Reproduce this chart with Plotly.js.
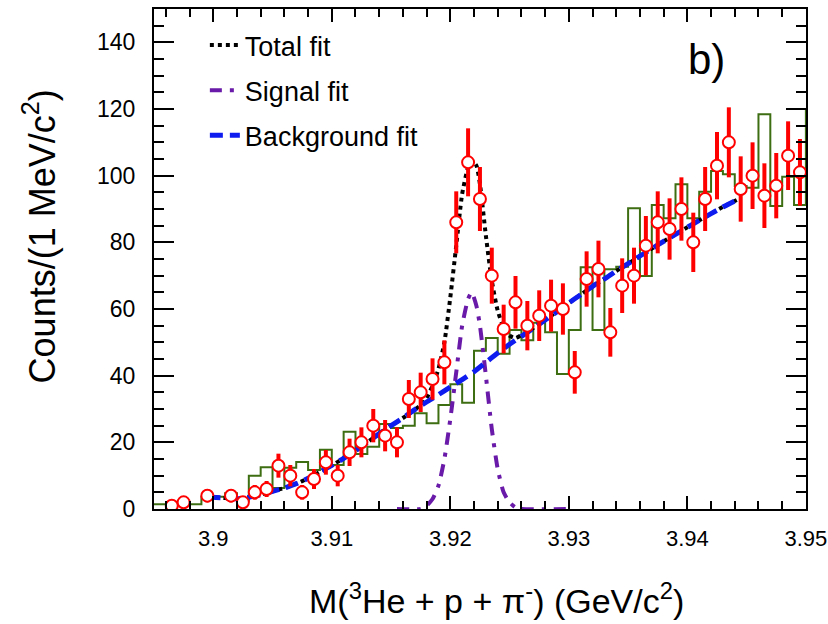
<!DOCTYPE html>
<html>
<head>
<meta charset="utf-8">
<script src="https://cdn.plot.ly/plotly-3.0.1.min.js"></script>
<style>
html, body { margin: 0; padding: 0; background: #ffffff; }
#chart { width: 828px; height: 624px; }
</style>
</head>
<body>
<div id="chart"></div>
<script>
// ---- Data points (counts per 1 MeV bin) ----
var dataX = [3.8965, 3.8975, 3.8995,
  3.9015, 3.9025, 3.9035, 3.9045, 3.9055, 3.9065, 3.9075, 3.9085, 3.9095, 3.9105,
  3.9115, 3.9125, 3.9135, 3.9145, 3.9155, 3.9165, 3.9175, 3.9185, 3.9195,
  3.9205, 3.9215, 3.9225, 3.9235, 3.9245, 3.9255, 3.9265, 3.9275, 3.9285, 3.9295,
  3.9305, 3.9315, 3.9325, 3.9335, 3.9345, 3.9355, 3.9365, 3.9375, 3.9385, 3.9395,
  3.9405, 3.9415, 3.9425, 3.9435, 3.9445, 3.9455, 3.9465, 3.9475, 3.9485, 3.9495];
var dataY = [1, 2, 4,
  4, 2, 5, 6, 13, 10, 5, 9, 14, 10,
  17, 20, 25, 22, 20, 33, 35, 39, 44,
  86, 104, 93, 70, 54, 62, 55, 58, 61, 60,
  41, 69, 72, 53, 67, 70, 79, 86, 84, 90,
  80, 93, 103, 110, 96, 100, 94, 97, 106, 101];
var dataErr = [1.0, 1.4, 2.0,
  2.0, 1.4, 2.2, 2.4, 3.6, 3.2, 2.2, 3.0, 3.7, 3.2,
  4.1, 4.5, 5.0, 4.7, 4.5, 5.7, 5.9, 6.2, 6.6,
  9.3, 10.2, 9.6, 8.4, 7.3, 7.9, 7.4, 7.6, 7.8, 7.7,
  6.4, 8.3, 8.5, 7.3, 8.2, 8.4, 8.9, 9.3, 9.2, 9.5,
  8.9, 9.6, 10.1, 10.5, 9.8, 10.0, 9.7, 9.8, 10.3, 10.0];

// ---- Green histogram (bin centres and contents) ----
var histX = [3.8945, 3.8955, 3.8965, 3.8975, 3.8985, 3.8995, 3.9005, 3.9015, 3.9025, 3.9035,
  3.9045, 3.9055, 3.9065, 3.9075, 3.9085, 3.9095, 3.9105, 3.9115, 3.9125, 3.9135,
  3.9145, 3.9155, 3.9165, 3.9175, 3.9185, 3.9195, 3.9205, 3.9215, 3.9225, 3.9235,
  3.9245, 3.9255, 3.9265, 3.9275, 3.9285, 3.9295, 3.9305, 3.9315, 3.9325, 3.9335,
  3.9345, 3.9355, 3.9365, 3.9375, 3.9385, 3.9395, 3.9405, 3.9415, 3.9425, 3.9435,
  3.9445, 3.9455, 3.9465, 3.9475, 3.9485, 3.9495, 3.9505];
var histY = [1.4, 1.4, 1.4, 1.4, 1.4, 3.7, 3.7, 4.7, 2.5, 10.0,
  12.5, 6.3, 12.4, 14.1, 11.7, 17.8, 13.2, 23.2, 16.5, 18.7,
  25.5, 24.3, 25.0, 28.7, 25.7, 31.2, 37.4, 31.9, 47.5, 51.3,
  46.6, 53.7, 50.6, 55.9, 53.0, 40.5, 53.7, 72.5, 53.7, 71.9,
  72.7, 90.2, 69.9, 91.2, 87.2, 97.4, 87.2, 95.2, 101.4, 100.4,
  96.9, 96.4, 118.4, 90.9, 99.7, 91.2, 120.0];
var binWidth = 0.001;

// ---- Fits ----
var totalX = [3.8995, 3.901, 3.902, 3.903, 3.904, 3.905, 3.906, 3.907, 3.908, 3.909,
  3.910, 3.911, 3.912, 3.913, 3.914, 3.915, 3.916, 3.917, 3.9175, 3.918,
  3.9185, 3.919, 3.9195, 3.920, 3.9205, 3.921, 3.9215, 3.9218, 3.9222, 3.9225,
  3.923, 3.9235, 3.924, 3.9245, 3.925, 3.9255, 3.926, 3.927, 3.928, 3.929,
  3.930, 3.931, 3.932, 3.933, 3.934, 3.935, 3.936, 3.937, 3.938, 3.939,
  3.940, 3.941, 3.942, 3.943, 3.9445];
var totalY = [3.6, 3.3, 3.1, 3.5, 4.3, 5.3, 6.3, 7.6, 9.2, 11.1,
  13.1, 15.2, 17.5, 20.0, 22.6, 25.0, 27.3, 29.8, 31.2, 33.3,
  37.0, 42.0, 50.0, 63.5, 79.0, 94.5, 102.5, 104.5, 103.0, 97.5,
  82.0, 68.5, 59.5, 54.5, 52.0, 51.3, 52.2, 54.3, 56.7, 59.2,
  61.8, 64.3, 66.8, 69.0, 71.4, 73.6, 75.9, 78.1, 80.3, 82.4,
  84.5, 86.6, 88.6, 90.6, 93.3];

var signalX = [3.9155, 3.9175, 3.918, 3.9185, 3.919, 3.9195, 3.920, 3.9205, 3.921, 3.9215,
  3.9218, 3.9222, 3.9225, 3.923, 3.9235, 3.924, 3.9245, 3.925, 3.9255, 3.926, 3.9298];
var signalY = [0, 0, 1, 3, 7, 15, 27, 41, 55, 63,
  65, 61, 55, 40, 24, 12, 5, 2, 0.5, 0, 0];

var bkgX = [3.8995, 3.901, 3.902, 3.903, 3.904, 3.905, 3.906, 3.907, 3.908, 3.909,
  3.910, 3.911, 3.912, 3.913, 3.914, 3.915, 3.916, 3.917, 3.918, 3.919,
  3.920, 3.921, 3.922, 3.923, 3.924, 3.925, 3.926, 3.927, 3.928, 3.929,
  3.930, 3.931, 3.932, 3.933, 3.934, 3.935, 3.936, 3.937, 3.938, 3.939,
  3.940, 3.941, 3.942, 3.943, 3.9445];
var bkgY = [3.6, 3.3, 3.1, 3.5, 4.3, 5.3, 6.3, 7.6, 9.2, 11.1,
  13.1, 15.2, 17.5, 20.0, 22.6, 25.0, 27.3, 29.8, 32.1, 34.3,
  36.6, 38.8, 41.2, 44.0, 46.8, 49.4, 51.8, 54.2, 56.7, 59.2,
  61.8, 64.3, 66.8, 69.0, 71.4, 73.6, 75.9, 78.1, 80.3, 82.4,
  84.5, 86.6, 88.6, 90.6, 93.3];

// ---- Axis ticks ----
var xTickVals = [3.9, 3.91, 3.92, 3.93, 3.94, 3.95];
var xTickText = ['3.9', '3.91', '3.92', '3.93', '3.94', '3.95'];
var yTickVals = [0, 20, 40, 60, 80, 100, 120, 140];
var yTickText = ['0', '20', '40', '60', '80', '100', '120', '140'];

var legendNames = ['Total fit', 'Signal fit', 'Background fit'];

// bin left edges for step drawing
var histEdges = histX.map(function (c) { return c - binWidth / 2; });

var FONT = '"Liberation Sans", Arial, Helvetica, sans-serif';

var traces = [
  {
    x: histEdges, y: histY, type: 'scatter', mode: 'lines',
    line: { shape: 'hv', color: '#3e6e12', width: 2 },
    showlegend: false, hoverinfo: 'skip', cliponaxis: true
  },
  {
    x: totalX, y: totalY, type: 'scatter', mode: 'lines', name: legendNames[0],
    legendgroup: 'g1',
    line: { color: '#000000', width: 4, dash: '4px,4px', shape: 'spline', smoothing: 0.6 }
  },
  {
    x: signalX, y: signalY, type: 'scatter', mode: 'lines', name: legendNames[1],
    legendgroup: 'g2',
    line: { color: '#6a1aa8', width: 4, dash: '12px,8px,4px,8px', shape: 'spline', smoothing: 0.6 }
  },
  {
    x: bkgX, y: bkgY, type: 'scatter', mode: 'lines', name: legendNames[2],
    legendgroup: 'g3',
    line: { color: '#0f1cf0', width: 5, dash: '13px,7px', shape: 'spline', smoothing: 0.6 }
  },
  {
    x: dataX, y: dataY, type: 'scatter', mode: 'markers',
    showlegend: false,
    marker: { symbol: 'circle', size: 12, color: '#ffffff', line: { color: '#ff0000', width: 2 } },
    error_y: { type: 'data', array: dataErr, visible: true, color: '#ff0000', thickness: 4, width: 0 }
  }
];

var layout = {
  width: 828, height: 624,
  margin: { l: 154, r: 22, t: 9, b: 115, pad: 0 },
  paper_bgcolor: '#ffffff', plot_bgcolor: '#ffffff',
  font: { family: FONT, color: '#000000' },
  showlegend: true,
  legend: {
    x: 0.078, y: 0.976, xanchor: 'left', yanchor: 'top',
    bgcolor: 'rgba(0,0,0,0)', borderwidth: 0,
    font: { family: FONT, size: 27, color: '#000000' },
    traceorder: 'grouped', tracegroupgap: 7
  },
  xaxis: {
    range: [3.895, 3.95001], autorange: false,
    tickmode: 'array', tickvals: xTickVals, ticktext: xTickText,
    ticks: 'inside', ticklen: 13, tickwidth: 2, tickcolor: '#000000',
    showline: true, linewidth: 2, linecolor: '#000000', mirror: 'allticks',
    showgrid: false, zeroline: false,
    tickfont: { family: FONT, size: 22, color: '#000000' },
    ticklabelstandoff: 9,
    ticklabeloverflow: 'allow',
    minor: { tickmode: 'linear', tick0: 3.9, dtick: 0.002, ticks: 'inside', ticklen: 8, tickwidth: 2, tickcolor: '#000000', showgrid: false }
  },
  yaxis: {
    range: [0, 150], autorange: false,
    tickmode: 'array', tickvals: yTickVals, ticktext: yTickText,
    ticks: 'inside', ticklen: 20, tickwidth: 2, tickcolor: '#000000',
    showline: true, linewidth: 2, linecolor: '#000000', mirror: 'allticks',
    showgrid: false, zeroline: false,
    tickfont: { family: FONT, size: 23, color: '#000000' },
    ticklabelstandoff: 12,
    ticklabeloverflow: 'allow',
    minor: { tickmode: 'linear', tick0: 0, dtick: 5, ticks: 'inside', ticklen: 10, tickwidth: 2, tickcolor: '#000000', showgrid: false }
  },
  annotations: [
    {
      text: 'b)', xref: 'paper', yref: 'paper', x: 0.847, y: 0.898,
      xanchor: 'center', yanchor: 'middle', showarrow: false,
      font: { family: FONT, size: 42, color: '#000000' }
    },
    {
      text: 'Counts/(1 MeV/c<sup>2</sup>)', xref: 'paper', yref: 'paper',
      x: -0.175, y: 0.545, xanchor: 'center', yanchor: 'middle', textangle: -90,
      showarrow: false, font: { family: FONT, size: 36, color: '#000000' }
    },
    {
      text: 'M(<sup>3</sup>He + p + \u03c0<sup>-</sup>) (GeV/c<sup>2</sup>)', xref: 'paper', yref: 'paper',
      x: 0.526, y: -0.178, xanchor: 'center', yanchor: 'middle',
      showarrow: false, font: { family: FONT, size: 34, color: '#000000' }
    }
  ]
};

Plotly.newPlot('chart', traces, layout, { displayModeBar: false, staticPlot: true });
</script>
</body>
</html>
